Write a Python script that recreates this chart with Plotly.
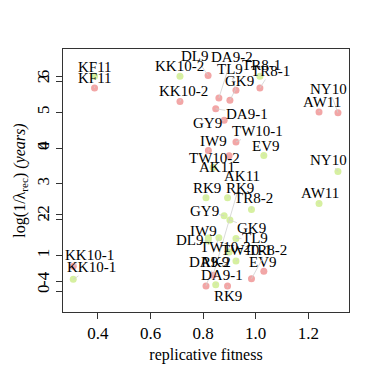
import plotly.graph_objects as go

# one entry per sample: replicative fitness, pink series (left axis 0..6), green series (left axis -4..2)
names = ["KF11", "KK10-2", "DL9", "DA9-2", "TL9", "TR8-1", "GK9", "NY10", "AW11", "DA9-1",
         "GY9", "TW10-1", "IW9", "EV9", "TW10-2", "AK11", "RK9", "RK9", "TR8-2", "KK10-1"]
fitness = [0.387, 0.712, 0.819, 0.860, 0.925, 1.016, 0.902, 1.313, 1.241, 0.848,
           0.880, 0.925, 0.820, 1.031, 0.899, 0.838, 0.811, 0.893, 0.984, 0.306]
pink_vals = [5.68, 5.30, 6.03, 5.40, 5.62, 5.68, 5.34, 4.99, 5.01, 5.10,
             4.78, 4.17, 3.93, 0.56, 3.79, 0.45, 0.15, 0.15, 0.35, 0.70]
green_vals = [2.16, 2.16, -2.79, -2.69, -2.71, 2.16, -2.16, -0.70, -1.66, -4.10,
              -2.03, -3.39, -2.70, -0.22, -3.12, -0.58, -1.49, -1.49, -1.84, -3.94]

pink_ticks = [0, 1, 2, 3, 4, 5, 6]
green_ticks = [-4, -2, 0, 2]
x_ticks = [0.4, 0.6, 0.8, 1.0, 1.2]

# label offsets in pixels (label centre relative to its point)
pink_off = [(0, -10), (4, -11), (-13, -19), (13, -41), (-6, -21), (11, -17), (10, -19), (-9, -24),
            (3, -10), (31, 5), (-17, 3), (22, -11), (5, -10), (-1, -9), (-15, 2), (29, -99),
            (9, -24), (0, 10), (16, -29), (16, -11)]
green_off = [(0, -9), (0, -10), (-18, -1), (-9, 24), (19, 0), (2, -11), (22, 8), (-9, -12),
             (1, -10), (6, -10), (-20, -5), (11, -11), (-5, -7), (2, -10), (-4, -5), (4, -1),
             (1, -10), (12, -10), (2, -11), (18, -12)]

PINK = "rgb(242,166,166)"
GREEN = "rgb(214,240,160)"
FONT = "Liberation Serif"

fig = go.Figure()
fig.add_trace(go.Scatter(x=fitness, y=pink_vals, mode="markers", yaxis="y",
                         marker=dict(color=PINK, size=7), hoverinfo="skip"))
fig.add_trace(go.Scatter(x=fitness, y=green_vals, mode="markers", yaxis="y2",
                         marker=dict(color=GREEN, size=7), hoverinfo="skip"))

annos = []
for vals, offs, yref in [(pink_vals, pink_off, "y"), (green_vals, green_off, "y2")]:
    for n, fx, v, (dx, dy) in zip(names, fitness, vals, offs):
        annos.append(dict(x=fx, y=v, xref="x", yref=yref, text=n, showarrow=True,
                          ax=dx, ay=dy, arrowhead=0, arrowwidth=0.8, arrowcolor="#cfcfcf",
                          standoff=0, startstandoff=0, borderpad=0,
                          font=dict(family=FONT, size=15, color="black")))

axis_common = dict(ticks="outside", ticklen=6, tickcolor="#333", showgrid=False,
                   zeroline=False, tickfont=dict(family=FONT, size=17, color="black"))

# the page body adds an 8px offset, so the figure is 366 px and margins are shifted
fig.update_layout(
    width=366, height=366,
    margin=dict(l=55, r=25, t=41, b=62),
    paper_bgcolor="white", plot_bgcolor="white",
    showlegend=False,
    annotations=annos,
    font=dict(family=FONT, size=15, color="black"),
    xaxis=dict(range=[0.267, 1.355], tickvals=x_ticks, ticktext=["0.4", "0.6", "0.8", "1.0", "1.2"],
               showline=True, mirror=True, linecolor="#333", linewidth=1,
               title=dict(text="replicative fitness", standoff=6,
                          font=dict(family=FONT, size=16)),
               **axis_common),
    yaxis=dict(range=[-0.58, 6.77], tickvals=pink_ticks, ticktext=[str(t) for t in pink_ticks],
               tickangle=-90, showline=True, mirror=True, linecolor="#333", linewidth=1,
               title=dict(text="log(1/λ<sub>rec</sub>) <i>(years)</i>", standoff=4,
                          font=dict(family=FONT, size=16)),
               **axis_common),
    yaxis2=dict(range=[-4.92, 2.98], tickvals=green_ticks, ticktext=[str(t) for t in green_ticks],
                tickangle=-90, overlaying="y", side="left", anchor="x", showline=False,
                **axis_common),
)

fig.write_html("out.html")
